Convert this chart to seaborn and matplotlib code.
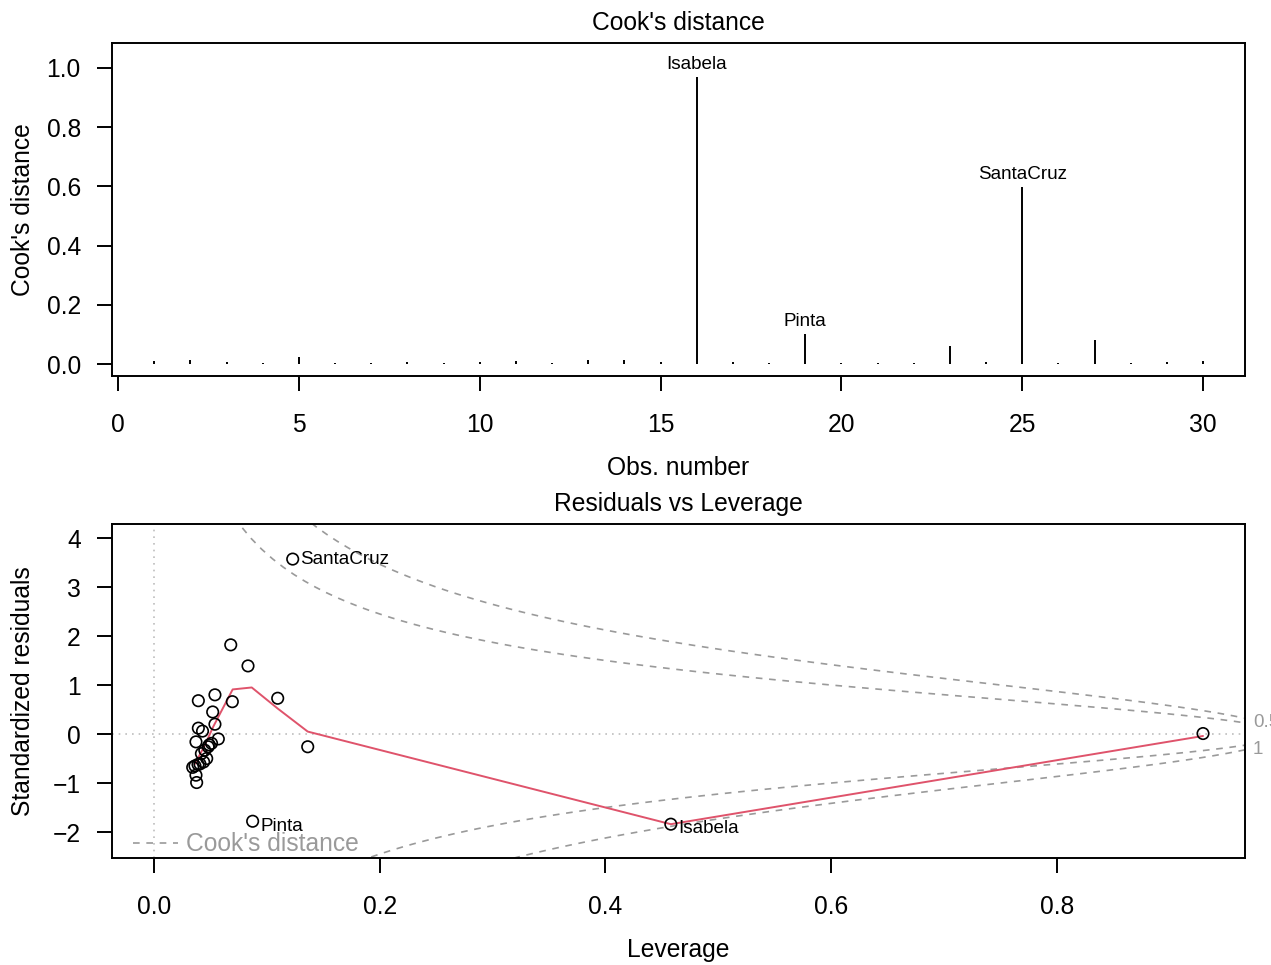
import numpy as np
import pandas as pd
import matplotlib
matplotlib.use("Agg")
import matplotlib.pyplot as plt
import matplotlib.transforms as mtransforms
import seaborn as sns

# ---------------- data ----------------
obs_number = list(range(1, 31))
cooks_d = [0.009, 0.013, 0.008, 0.005, 0.024, 0.005, 0.004, 0.008, 0.005, 0.008,
           0.009, 0.004, 0.015, 0.015, 0.008, 0.970, 0.008, 0.005, 0.101, 0.005,
           0.004, 0.005, 0.061, 0.006, 0.598, 0.005, 0.081, 0.004, 0.008, 0.011]
top_labels = {16: "Isabela", 19: "Pinta", 25: "SantaCruz"}

leverage = [0.0393, 0.0540, 0.0694, 0.0520, 0.0540, 0.0393, 0.0430, 0.0570, 0.0372, 0.0510,
            0.0480, 0.0450, 0.0467, 0.0407, 0.0363, 0.0343, 0.0372, 0.0378, 0.0680, 0.0833,
            0.1096, 0.1362, 0.0874, 0.1229, 0.4579, 0.9294, 0.0490, 0.0420, 0.0390, 0.0440]
std_resid = [0.68, 0.80, 0.66, 0.45, 0.20, 0.12, 0.06, -0.10, -0.16, -0.19,
             -0.26, -0.33, -0.50, -0.61, -0.65, -0.68, -0.84, -0.99, 1.82, 1.39,
             0.73, -0.26, -1.78, 3.57, -1.84, 0.01, -0.22, -0.40, -0.62, -0.57]
point_names = [""] * 30
point_names[22] = "Pinta"
point_names[23] = "SantaCruz"
point_names[24] = "Isabela"

smooth_lev = [0.0363, 0.0452, 0.0525, 0.0697, 0.0866, 0.1096, 0.1362, 0.4579, 0.9294]
smooth_res = [-0.61, -0.22, 0.15, 0.91, 0.95, 0.52, 0.05, -1.84, -0.04]

n_params = 3
cook_levels = [0.5, 1.0]

# ---------------- style ----------------
sns.set_style("white")
plt.rcParams["font.family"] = ["Liberation Sans", "DejaVu Sans"]
FS = 17.7
SFS = FS * 0.77
LW = 1.4
plt.rcParams.update({
    "axes.linewidth": LW,
    "axes.edgecolor": "black",
    "axes.labelcolor": "black",
    "text.color": "black",
    "xtick.major.width": LW,
    "ytick.major.width": LW,
    "xtick.major.size": 11,
    "ytick.major.size": 11,
    "xtick.labelsize": FS,
    "ytick.labelsize": FS,
    "xtick.color": "black",
    "ytick.color": "black",
    "xtick.labelcolor": "black",
    "ytick.labelcolor": "black",
    "xtick.bottom": True,
    "ytick.left": True,
})

fig = plt.figure(figsize=(12.71, 9.65), dpi=100)
W, H = 1271, 965
ax1 = fig.add_axes([112 / W, 1 - 376 / H, 1133 / W, 333 / H])
ax2 = fig.add_axes([112 / W, 1 - 858 / H, 1133 / W, 334 / H])

# ---------------- top: Cook's distance ----------------
df_top = pd.DataFrame({"obs": obs_number, "cook": cooks_d})
ax1.vlines(df_top["obs"], 0, df_top["cook"], color="black", linewidth=LW)
ax1.set_xlim(-0.166, 31.16)
ax1.set_ylim(-0.0405, 1.084)
ax1.set_xticks([0, 5, 10, 15, 20, 25, 30])
ax1.set_yticks([0.0, 0.2, 0.4, 0.6, 0.8, 1.0])
ax1.set_yticklabels([f"{v:.1f}" for v in [0.0, 0.2, 0.4, 0.6, 0.8, 1.0]])
for i, name in top_labels.items():
    ax1.annotate(name, (i, cooks_d[i - 1]), xytext=(0, 8.8), textcoords="offset points",
                 ha="center", va="center", fontsize=SFS, color="black")
ax1.set_title("Cook's distance", fontsize=FS, pad=9, color="black")
ax1.set_xlabel("Obs. number", fontsize=FS, va="center")
ax1.set_ylabel("Cook's distance", fontsize=FS, va="center")
ax1.xaxis.set_label_coords(0.5, -0.276)
ax1.yaxis.set_label_coords(-0.0786, 0.5)
ax1.tick_params(axis="x", pad=15.3)
ax1.tick_params(axis="y", pad=11.5)

# ---------------- bottom: Residuals vs Leverage ----------------
xlo, xhi = -0.0372, 0.9666
ax2.set_xlim(xlo, xhi)
ax2.set_ylim(-2.53, 4.286)
ax2.axhline(0, color="#BEBEBE", linestyle=(0, (1, 3)), linewidth=1.2, zorder=0)
ax2.axvline(0, color="#BEBEBE", linestyle=(0, (1, 3)), linewidth=1.2, zorder=0)

gray = "#9a9a9a"
hmin = min(min(leverage), max(leverage) / 100)
hh = np.linspace(hmin, xhi, 101)
for k, crit in enumerate(cook_levels):
    cl = np.sqrt(crit * n_params * (1 - hh) / hh)
    ax2.plot(hh, cl, color=gray, linestyle=(0, (4, 4)), linewidth=1.2,
             label="Cook's distance" if k == 0 else None)
    ax2.plot(hh, -cl, color=gray, linestyle=(0, (4, 4)), linewidth=1.2)

df_s = pd.DataFrame({"lev": smooth_lev, "res": smooth_res})
sns.lineplot(data=df_s, x="lev", y="res", ax=ax2, color="#DF536B", linewidth=1.4,
             sort=False, estimator=None, legend=False)

df_pts = pd.DataFrame({"lev": leverage, "res": std_resid, "name": point_names})
sns.scatterplot(data=df_pts, x="lev", y="res", ax=ax2, s=68, facecolor="none",
                edgecolor="black", linewidth=1.2, legend=False, zorder=3)

offsets = {"SantaCruz": (5, 0), "Pinta": (5.5, -3.5), "Isabela": (5.5, -3)}
for lv, rs, nm in zip(leverage, std_resid, point_names):
    if nm:
        ax2.annotate(nm, (lv, rs), xytext=offsets[nm], textcoords="offset points",
                     ha="left", va="center", fontsize=SFS, color="black")

# right-side Cook's level labels
xmax = min(0.99, xhi)
ymult = np.sqrt(n_params * (1 - xmax) / xmax)
trans = mtransforms.blended_transform_factory(ax2.transAxes, ax2.transData)
ax2.text(1.007, np.sqrt(cook_levels[0]) * ymult, "0.5", transform=trans, color=gray,
         fontsize=SFS, ha="left", va="center", clip_on=False)
ax2.text(1.007, -np.sqrt(cook_levels[1]) * ymult, "1", transform=trans, color=gray,
         fontsize=SFS, ha="left", va="center", clip_on=False)

leg = ax2.legend(loc="lower left", bbox_to_anchor=(0.0, 0.0), frameon=False,
                 fontsize=FS, handlelength=1.85, handletextpad=0.3,
                 borderaxespad=0.0, borderpad=0.0, labelcolor=gray)
leg.set_bbox_to_anchor((21 / 1133, 0.005), transform=ax2.transAxes)

ax2.set_xticks([0.0, 0.2, 0.4, 0.6, 0.8])
ax2.set_xticklabels(["0.0", "0.2", "0.4", "0.6", "0.8"])
ax2.set_yticks([-2, -1, 0, 1, 2, 3, 4])
ax2.set_title("Residuals vs Leverage", fontsize=FS, pad=9, color="black")
ax2.set_xlabel("Leverage", fontsize=FS, va="center")
ax2.set_ylabel("Standardized residuals", fontsize=FS, va="center")
ax2.xaxis.set_label_coords(0.5, -0.2755)
ax2.yaxis.set_label_coords(-0.0786, 0.5)
ax2.tick_params(axis="x", pad=15.3)
ax2.tick_params(axis="y", pad=11.5)

for ax in (ax1, ax2):
    for sp in ax.spines.values():
        sp.set_visible(True)
        sp.set_linewidth(LW)

fig.savefig("out.png", dpi=100, facecolor="white")
